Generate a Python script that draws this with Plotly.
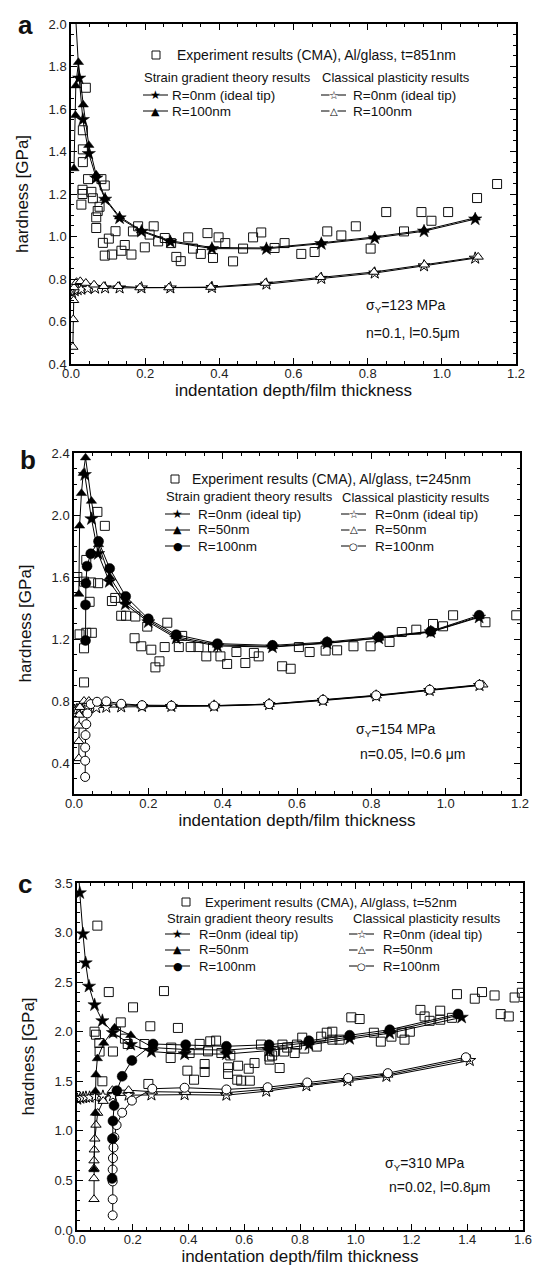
import plotly.graph_objects as go

# ---------------- Panel a data ----------------
a_exp_x = [0.040, 0.032, 0.032, 0.032, 0.046, 0.031, 0.031, 0.028, 0.055, 0.059, 0.082, 0.091, 0.077, 0.072,
           0.068, 0.068, 0.086, 0.102, 0.120, 0.091, 0.111, 0.136, 0.145, 0.163, 0.167, 0.181, 0.199, 0.212,
           0.223, 0.235, 0.253, 0.270, 0.284, 0.296, 0.316, 0.329, 0.350, 0.368, 0.383, 0.398, 0.416, 0.437,
           0.464, 0.491, 0.513, 0.549, 0.576, 0.621, 0.657, 0.691, 0.729, 0.768, 0.808, 0.850, 0.898, 0.945,
           0.972, 1.017, 1.095, 1.149]
a_exp_y = [1.70, 1.50, 1.41, 1.35, 1.27, 1.22, 1.20, 1.15, 1.21, 1.18, 1.27, 1.24, 1.14, 1.12,
           1.09, 1.04, 0.97, 0.99, 1.025, 0.91, 0.915, 0.933, 0.96, 0.915, 1.024, 1.048, 0.949, 1.009,
           1.048, 0.977, 0.993, 0.969, 0.904, 0.884, 0.996, 0.943, 0.918, 1.016, 0.899, 0.996, 0.969, 0.883,
           0.943, 0.996, 1.019, 0.946, 0.969, 0.918, 0.927, 1.024, 1.005, 1.048, 0.943, 1.115, 1.024, 1.115,
           1.074, 1.115, 1.181, 1.247]

a_sg_r0_x = [0.012, 0.022, 0.032, 0.048, 0.068, 0.092, 0.131, 0.19, 0.268, 0.38, 0.527, 0.675, 0.819, 0.952, 1.09]
a_sg_r0_y = [2.05, 1.745, 1.55, 1.39, 1.275, 1.175, 1.087, 1.024, 0.975, 0.943, 0.942, 0.966, 0.993, 1.025, 1.082]

a_sg_r100_x = [0.008, 0.012, 0.013, 0.02, 0.033, 0.048, 0.068, 0.092, 0.131, 0.19, 0.268, 0.38, 0.527, 0.675,
               0.819, 0.952, 1.09]
a_sg_r100_y = [1.32, 1.57, 1.71, 1.82, 1.62, 1.43, 1.29, 1.18, 1.093, 1.028, 0.98, 0.948, 0.946, 0.97,
               0.998, 1.03, 1.088]

a_cl_r0_x = [0.003, 0.010, 0.018, 0.028, 0.045, 0.065, 0.092, 0.131, 0.19, 0.268, 0.38, 0.527, 0.675, 0.819,
             0.952, 1.09]
a_cl_r0_y = [0.735, 0.745, 0.75, 0.752, 0.755, 0.757, 0.758, 0.758, 0.758, 0.758, 0.76, 0.776, 0.803, 0.828,
             0.862, 0.898]

a_cl_r100_x = [0.005, 0.006, 0.007, 0.008, 0.015, 0.025, 0.04, 0.062, 0.088, 0.127, 0.186, 0.264, 0.377, 0.524,
               0.673, 0.817, 0.953, 1.098]
a_cl_r100_y = [0.48, 0.61, 0.70, 0.76, 0.785, 0.789, 0.781, 0.773, 0.766, 0.766, 0.76, 0.76, 0.762, 0.781,
               0.808, 0.833, 0.867, 0.904]

# ---------------- Panel b data ----------------
b_exp_x = [0.009, 0.027, 0.046, 0.065, 0.063, 0.083, 0.033, 0.042, 0.102, 0.111, 0.127, 0.14, 0.165, 0.197,
           0.251, 0.291, 0.015, 0.033, 0.048, 0.027, 0.027, 0.163, 0.181, 0.208, 0.219, 0.23, 0.244, 0.282,
           0.314, 0.335, 0.374, 0.356, 0.394, 0.412, 0.437, 0.461, 0.484, 0.497, 0.56, 0.583, 0.605, 0.634,
           0.677, 0.708, 0.752, 0.798, 0.849, 0.882, 0.921, 0.966, 0.993, 1.02, 1.107, 1.19]
b_exp_y = [1.60, 1.57, 1.565, 1.56, 2.02, 1.93, 1.71, 1.44, 1.445, 1.465, 1.35, 1.35, 1.345, 1.28,
           1.305, 1.22, 1.23, 1.24, 1.24, 1.14, 0.92, 1.205, 1.153, 1.131, 1.017, 1.056, 1.148, 1.148,
           1.148, 1.148, 1.146, 1.088, 1.088, 1.039, 1.116, 1.045, 1.11, 1.088, 1.024, 1.008, 1.148, 1.116,
           1.125, 1.127, 1.153, 1.153, 1.181, 1.245, 1.26, 1.297, 1.282, 1.353, 1.308, 1.353]

b_sg_r0_x = [0.029, 0.047, 0.065, 0.095, 0.138, 0.2, 0.275, 0.386, 0.534, 0.681, 0.82, 0.96, 1.09]
b_sg_r0_y = [2.26, 1.975, 1.75, 1.57, 1.425, 1.31, 1.205, 1.155, 1.148, 1.172, 1.205, 1.245, 1.34]

b_sg_r50_x = [0.013, 0.015, 0.02, 0.025, 0.031, 0.047, 0.066, 0.096, 0.139, 0.2, 0.275, 0.386, 0.534, 0.681,
              0.82, 0.96, 1.09]
b_sg_r50_y = [1.49, 1.93, 2.14, 2.27, 2.37, 2.09, 1.81, 1.60, 1.44, 1.32, 1.215, 1.162, 1.152, 1.175,
              1.207, 1.247, 1.345]

b_sg_r100_x = [0.031, 0.031, 0.032, 0.035, 0.045, 0.066, 0.096, 0.139, 0.2, 0.275, 0.386, 0.534, 0.681, 0.82,
               0.96, 1.09]
b_sg_r100_y = [1.19, 1.42, 1.56, 1.67, 1.75, 1.83, 1.655, 1.475, 1.33, 1.228, 1.17, 1.159, 1.18, 1.213,
               1.25, 1.353]

b_cl_r0_x = [0.002, 0.008, 0.015, 0.025, 0.04, 0.06, 0.087, 0.127, 0.183, 0.262, 0.377, 0.525, 0.67, 0.813,
             0.957, 1.091]
b_cl_r0_y = [0.74, 0.745, 0.748, 0.752, 0.755, 0.757, 0.76, 0.762, 0.765, 0.765, 0.767, 0.777, 0.803, 0.832,
             0.868, 0.90]

b_cl_r50_x = [0.013, 0.013, 0.013, 0.014, 0.016, 0.027, 0.04, 0.06, 0.087, 0.127, 0.183, 0.262, 0.377, 0.525,
              0.67, 0.813, 0.957, 1.10]
b_cl_r50_y = [0.43, 0.54, 0.64, 0.71, 0.76, 0.80, 0.80, 0.79, 0.785, 0.775, 0.77, 0.768, 0.77, 0.78,
              0.806, 0.835, 0.87, 0.905]

b_cl_r100_x = [0.03, 0.03, 0.03, 0.031, 0.033, 0.036, 0.045, 0.062, 0.087, 0.127, 0.183, 0.262, 0.377, 0.525,
               0.67, 0.813, 0.957, 1.091]
b_cl_r100_y = [0.31, 0.415, 0.50, 0.58, 0.65, 0.72, 0.78, 0.795, 0.798, 0.782, 0.773, 0.77, 0.77, 0.78,
               0.808, 0.837, 0.873, 0.905]

# ---------------- Panel c data ----------------
c_exp_x = [0.073, 0.114, 0.312, 0.201, 0.063, 0.068, 0.08, 0.081, 0.157, 0.263, 0.362, 0.14, 0.172, 0.182,
           0.242, 0.129, 0.091, 0.256, 0.338, 0.336, 0.396, 0.42, 0.404, 0.44, 0.458, 0.458, 0.47, 0.478,
           0.499, 0.518, 0.542, 0.542, 0.55, 0.578, 0.575, 0.589, 0.616, 0.62, 0.637, 0.66, 0.69, 0.70,
           0.691, 0.707, 0.727, 0.737, 0.743, 0.754, 0.781, 0.789, 0.808, 0.815, 0.86, 0.876, 0.896, 0.916,
           0.916, 0.942, 0.984, 1.014, 1.065, 1.09, 1.128, 1.165, 1.175, 1.194, 1.232, 1.247, 1.265, 1.303,
           1.303, 1.345, 1.363, 1.427, 1.453, 1.498, 1.52, 1.549, 1.57, 1.596]
c_exp_y = [3.07, 2.40, 2.41, 2.246, 2.00, 1.97, 1.886, 1.80, 2.094, 2.055, 2.038, 2.0, 1.93, 1.876,
           1.876, 1.80, 1.50, 1.473, 1.84, 1.735, 1.607, 1.516, 1.785, 1.877, 1.674, 1.594, 1.802, 1.903,
           1.91, 1.785, 1.641, 1.574, 1.761, 1.657, 1.516, 1.506, 1.627, 1.506, 1.684, 1.87, 1.75, 1.76,
           1.718, 1.80, 1.634, 1.87, 1.80, 1.84, 1.785, 1.87, 1.94, 1.83, 1.85, 1.95, 1.99, 2.0,
           1.92, 1.92, 2.145, 2.128, 1.99, 1.90, 1.95, 1.99, 1.92, 2.0, 2.22, 2.154, 2.11, 2.121,
           2.212, 2.14, 2.379, 2.333, 2.40, 2.366, 2.178, 2.154, 2.345, 2.393]

c_sg_r0_x = [0.006, 0.010, 0.0215, 0.031, 0.043, 0.063, 0.091, 0.129, 0.193, 0.267, 0.386, 0.536, 0.689,
             0.832, 0.978, 1.122, 1.38]
c_sg_r0_y = [3.60, 3.40, 2.986, 2.693, 2.458, 2.27, 2.11, 1.99, 1.87, 1.80, 1.775, 1.775, 1.81,
             1.87, 1.93, 1.985, 2.145]

c_sg_r50_x = [0.061, 0.066, 0.066, 0.068, 0.073, 0.096, 0.135, 0.193, 0.273, 0.39, 0.536, 0.689, 0.832,
              0.978, 1.122, 1.367]
c_sg_r50_y = [0.61, 1.18, 1.40, 1.567, 1.73, 1.886, 2.04, 1.964, 1.84, 1.82, 1.815, 1.845, 1.89,
              1.945, 2.0, 2.165]

c_sg_r100_x = [0.126, 0.127, 0.129, 0.133, 0.143, 0.162, 0.197, 0.273, 0.39, 0.536, 0.689, 0.832, 0.978,
               1.122, 1.367]
c_sg_r100_y = [0.52, 0.92, 1.10, 1.255, 1.405, 1.55, 1.71, 1.876, 1.869, 1.853, 1.869, 1.909, 1.964,
               2.02, 2.179]

c_cl_r0_x = [0.001, 0.012, 0.022, 0.032, 0.045, 0.065, 0.093, 0.129, 0.185, 0.267, 0.386, 0.536, 0.679,
             0.823, 0.97, 1.11, 1.409]
c_cl_r0_y = [1.32, 1.33, 1.335, 1.34, 1.34, 1.345, 1.35, 1.355, 1.36, 1.362, 1.365, 1.36, 1.40,
             1.455, 1.505, 1.55, 1.71]

c_cl_r50_x = [0.061, 0.061, 0.061, 0.061, 0.062, 0.064, 0.068, 0.074, 0.094, 0.127, 0.185, 0.27, 0.39,
              0.536, 0.684, 0.826, 0.973, 1.115, 1.395]
c_cl_r50_y = [0.31, 0.52, 0.62, 0.70, 0.81, 0.92, 1.06, 1.18, 1.30, 1.41, 1.41, 1.395, 1.39,
              1.385, 1.42, 1.47, 1.515, 1.565, 1.725]

c_cl_r100_x = [0.128, 0.128, 0.128, 0.128, 0.129, 0.131, 0.134, 0.142, 0.162, 0.197, 0.27, 0.386, 0.536,
               0.684, 0.826, 0.973, 1.115, 1.395]
c_cl_r100_y = [0.148, 0.31, 0.49, 0.61, 0.725, 0.832, 0.935, 1.058, 1.183, 1.305, 1.425, 1.435, 1.418,
               1.44, 1.488, 1.533, 1.582, 1.742]

# ---------------- Figure ----------------
W, H = 546, 1271
FONT = "Liberation Sans, Arial, Helvetica, sans-serif"


def fx(p):
    return p / W


def fy(p):
    return 1 - p / H


fig = go.Figure()

MARK = {
    "star": dict(symbol="star", size=10, color="black", line=dict(color="black", width=0.5)),
    "star_o": dict(symbol="star", size=9, color="white", line=dict(color="black", width=1)),
    "tri": dict(symbol="triangle-up", size=9, color="black", line=dict(color="black", width=0.5)),
    "tri_o": dict(symbol="triangle-up", size=9, color="white", line=dict(color="black", width=1)),
    "circ": dict(symbol="circle", size=10, color="black", line=dict(color="black", width=0.5)),
    "circ_o": dict(symbol="circle", size=9, color="white", line=dict(color="black", width=1)),
    "sq": dict(symbol="square-open", size=9, color="#111", line=dict(color="#111", width=1)),
}


def add(x, y, n, kind, mode="lines+markers"):
    fig.add_trace(go.Scatter(
        x=x, y=y, mode=mode, xaxis="x" + n, yaxis="y" + n,
        line=dict(color="black", width=1),
        marker=MARK[kind], showlegend=False, hoverinfo="skip", cliponaxis=True))


# panel a
add(a_exp_x, a_exp_y, "", "sq", "markers")
add(a_cl_r0_x, a_cl_r0_y, "", "star_o")
add(a_cl_r100_x, a_cl_r100_y, "", "tri_o")
add(a_sg_r0_x, a_sg_r0_y, "", "star")
add(a_sg_r100_x, a_sg_r100_y, "", "tri")
# panel b
add(b_exp_x, b_exp_y, "2", "sq", "markers")
add(b_cl_r0_x, b_cl_r0_y, "2", "star_o")
add(b_cl_r50_x, b_cl_r50_y, "2", "tri_o")
add(b_cl_r100_x, b_cl_r100_y, "2", "circ_o")
add(b_sg_r0_x, b_sg_r0_y, "2", "star")
add(b_sg_r50_x, b_sg_r50_y, "2", "tri")
add(b_sg_r100_x, b_sg_r100_y, "2", "circ")
# panel c
add(c_exp_x, c_exp_y, "3", "sq", "markers")
add(c_cl_r0_x, c_cl_r0_y, "3", "star_o")
add(c_cl_r50_x, c_cl_r50_y, "3", "tri_o")
add(c_cl_r100_x, c_cl_r100_y, "3", "circ_o")
add(c_sg_r0_x, c_sg_r0_y, "3", "star")
add(c_sg_r50_x, c_sg_r50_y, "3", "tri")
add(c_sg_r100_x, c_sg_r100_y, "3", "circ")


def xax(dom_px, rng, anchor):
    return dict(domain=[fx(dom_px[0]), fx(dom_px[1])], range=rng, anchor=anchor,
                dtick=0.2, tick0=0, tickformat=".1f",
                ticks="inside", ticklen=6, tickwidth=1, tickcolor="black",
                mirror="allticks", showline=True, linecolor="black", linewidth=1.5,
                showgrid=False, zeroline=False, automargin=False, ticklabelstandoff=-3,
                tickfont=dict(family=FONT, size=13, color="#222"),
                minor=dict(ticks="inside", ticklen=3, dtick=0.05, tickcolor="black", tickwidth=1),
                title=dict(text="indentation depth/film thickness", standoff=3,
                           font=dict(family=FONT, size=17, color="#111")))


def yax(dom_px, rng, dtick, mdtick, anchor):
    return dict(domain=[fy(dom_px[1]), fy(dom_px[0])], range=rng, anchor=anchor,
                dtick=dtick, tick0=0, tickformat=".1f",
                ticks="inside", ticklen=6, tickwidth=1, tickcolor="black",
                mirror="allticks", showline=True, linecolor="black", linewidth=1.5,
                showgrid=False, zeroline=False, automargin=False,
                tickfont=dict(family=FONT, size=13, color="#222"),
                minor=dict(ticks="inside", ticklen=3, dtick=mdtick, tickcolor="black", tickwidth=1),
                title=dict(text="hardness [GPa]", standoff=16,
                           font=dict(family=FONT, size=17, color="#111")))


fig.update_layout(
    width=W, height=H, margin=dict(l=0, r=0, t=0, b=0),
    paper_bgcolor="white", plot_bgcolor="white", showlegend=False,
    xaxis=xax((63, 508), [0, 1.2], "y"),
    yaxis=yax((16, 356), [0.4, 2.0], 0.2, 0.05, "x"),
    xaxis2=xax((66, 512), [0, 1.2], "y2"),
    yaxis2=yax((445, 786), [0.2, 2.4], 0.4, 0.1, "x2"),
    xaxis3=xax((69, 515), [0, 1.6], "y3"),
    yaxis3=yax((875, 1222), [0, 3.5], 0.5, 0.1, "x3"),
)

ann = []
shapes = []


def text(x, y, s, size=13.5, anchor="left", bold=False, family=FONT):
    ann.append(dict(x=fx(x), y=fy(y), xref="paper", yref="paper", text=("<b>%s</b>" % s) if bold else s,
                    showarrow=False, xanchor=anchor, yanchor="middle",
                    font=dict(family=family, size=size, color="#111")))


def hline(xa, xb, y):
    shapes.append(dict(type="line", xref="paper", yref="paper", x0=fx(xa), x1=fx(xb),
                       y0=fy(y), y1=fy(y), line=dict(color="black", width=1)))


def sample(x0, y, glyph, gsize=12, hollow=False):
    if hollow:
        hline(x0, x0 + 8.5, y)
        hline(x0 + 16.5, x0 + 25, y)
    else:
        hline(x0, x0 + 25, y)
    ann.append(dict(x=fx(x0 + 12.5), y=fy(y), xref="paper", yref="paper", text=glyph, showarrow=False,
                    xanchor="center", yanchor="middle",
                    font=dict(family="DejaVu Sans", size=gsize, color="black")))


def exp_box(cx, cy):
    shapes.append(dict(type="rect", xref="paper", yref="paper", x0=fx(cx - 4), x1=fx(cx + 4),
                       y0=fy(cy + 4), y1=fy(cy - 4), line=dict(color="#111", width=1)))


# panel letters
text(8, 17, "a", 26, bold=True)
text(10, 452, "b", 26, bold=True)
text(8, 876, "c", 26, bold=True)

# legend panel a
exp_box(148, 47)
text(167, 47, "Experiment results (CMA), Al/glass, t=851nm", 14)
text(134, 70, "Strain gradient theory results", 13)
text(312, 70, "Classical plasticity results", 13)
sample(135, 87, "★", 12)
text(162, 87, "R=0nm (ideal tip)", 13.5)
sample(135, 103, "▲", 11)
text(162, 103, "R=100nm", 13.5)
sample(313, 87, "☆", 11, True)
text(343, 87, "R=0nm (ideal tip)", 13.5)
sample(313, 103, "△", 10, True)
text(343, 103, "R=100nm", 13.5)
text(398, 298, "σ<sub>Y</sub>=123 MPa", 14, anchor="center")
text(405, 325, "n=0.1, l=0.5μm", 14, anchor="center")

# legend panel b
exp_box(167, 471)
text(182, 471, "Experiment results (CMA), Al/glass, t=245nm", 14)
text(156, 488, "Strain gradient theory results", 13)
text(332, 489, "Classical plasticity results", 13)
sample(157, 506, "★", 12)
text(188, 506, "R=0nm (ideal tip)", 13.5)
sample(157, 522, "▲", 11)
text(188, 522, "R=50nm", 13.5)
sample(157, 538, "●", 11)
text(188, 538, "R=100nm", 13.5)
sample(333, 506, "☆", 11, True)
text(365, 506, "R=0nm (ideal tip)", 13.5)
sample(333, 522, "△", 10, True)
text(365, 522, "R=50nm", 13.5)
sample(333, 538, "○", 10, True)
text(365, 538, "R=100nm", 13.5)
text(388, 722, "σ<sub>Y</sub>=154 MPa", 14, anchor="center")
text(404, 746, "n=0.05, l=0.6 μm", 14, anchor="center")

# legend panel c
exp_box(178, 894)
text(195, 894, "Experiment results (CMA), Al/glass, t=52nm", 13)
text(157, 910, "Strain gradient theory results", 13)
text(343, 910, "Classical plasticity results", 13)
sample(157, 926, "★", 12)
text(189, 926, "R=0nm (ideal tip)", 13)
sample(157, 942, "▲", 11)
text(189, 942, "R=50nm", 13)
sample(157, 958, "●", 11)
text(189, 958, "R=100nm", 13)
sample(341, 926, "☆", 11, True)
text(373, 926, "R=0nm (ideal tip)", 13)
sample(341, 942, "△", 10, True)
text(373, 942, "R=50nm", 13)
sample(341, 958, "○", 10, True)
text(373, 958, "R=100nm", 13)
text(417, 1156, "σ<sub>Y</sub>=310 MPa", 14, anchor="center")
text(431, 1179, "n=0.02, l=0.8μm", 14, anchor="center")

fig.update_layout(annotations=ann, shapes=shapes)
fig.write_html("out.html")
